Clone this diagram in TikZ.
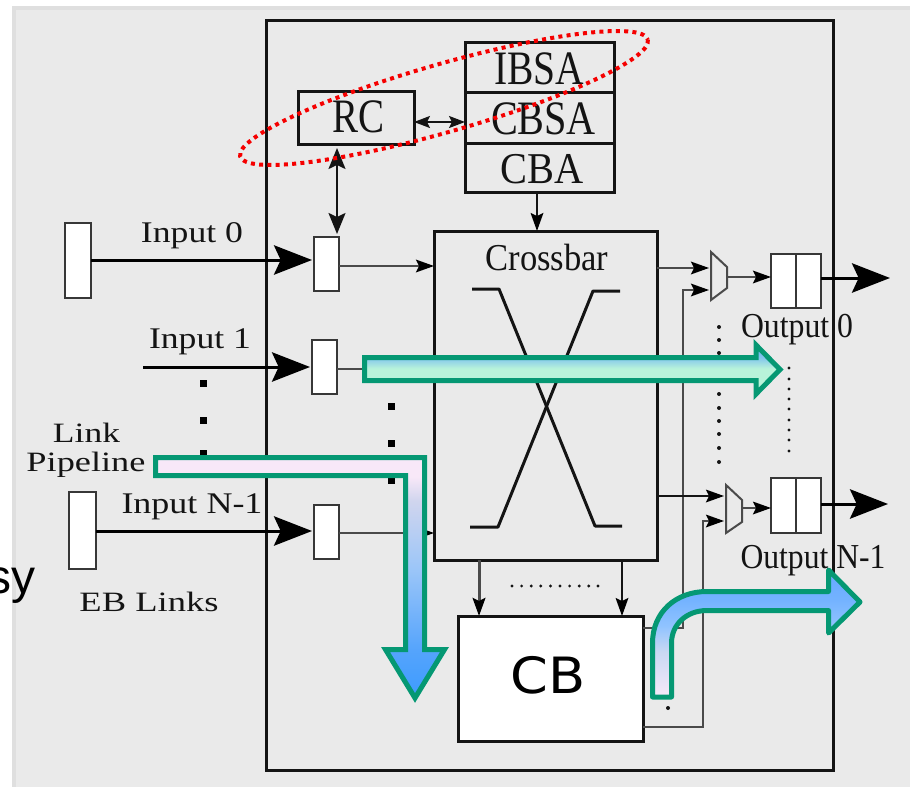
\documentclass[tikz,border=0pt]{standalone}
\usepackage{fontspec}
\usepackage{graphicx}
\setmainfont{Liberation Serif}
\newfontfamily\sansf{Liberation Sans}
\newfontfamily\dejav{DejaVu Sans}
\usetikzlibrary{arrows.meta}
\newdimen\pxu \pxu=.75pt
\newcommand\lab[3]{\resizebox{#2\pxu}{\height}{\fontsize{#1\pxu}{#1\pxu}\selectfont #3}}
\definecolor{bgg}{HTML}{EAEAEA}
\definecolor{bgb}{HTML}{DFDFDF}
\definecolor{ink}{HTML}{141414}
\definecolor{gline}{HTML}{4A4A4A}
\definecolor{grn}{HTML}{059873}
\definecolor{redd}{HTML}{F50000}
\definecolor{mint}{HTML}{B8F3DA}
\definecolor{skya}{HTML}{83C6EC}
\definecolor{skyb}{HTML}{66A6F2}
\definecolor{pinkk}{HTML}{F8E8F8}
\definecolor{lava}{HTML}{D0D5EE}
\definecolor{blua}{HTML}{9CC6F8}
\definecolor{blub}{HTML}{55A4FC}
\definecolor{bluc}{HTML}{3D9BFF}
\definecolor{cola}{HTML}{66A8FF}
\definecolor{colb}{HTML}{74B3FF}
\definecolor{colc}{HTML}{90C3FF}
\definecolor{cold}{HTML}{C8D8F3}
\definecolor{cole}{HTML}{F3E8F8}
\pgfdeclareverticalshading{shA}{100bp}{color(0bp)=(mint);color(51bp)=(mint);color(62bp)=(skya);color(75bp)=(skyb);color(100bp)=(skyb)}
\pgfdeclareverticalshading{shB}{100bp}{color(0bp)=(bluc);color(25bp)=(bluc);color(35bp)=(blub);color(52bp)=(blua);color(66bp)=(lava);color(71bp)=(pinkk);color(100bp)=(pinkk)}
\pgfdeclareverticalshading{shC}{100bp}{color(0bp)=(cole);color(26bp)=(cole);color(43bp)=(cold);color(53bp)=(colc);color(63bp)=(colb);color(75bp)=(cola);color(100bp)=(cola)}
\tikzset{
 txt/.style={anchor=base,inner sep=0pt,outer sep=0pt,text=ink},
 box/.style={draw=ink,line width=2.25pt,fill=white,inner sep=0pt,outer sep=0pt},
 frame/.style={box,fill=none},
 reg/.style={box,draw=ink!85!white,line width=1.95pt},
 wire/.style={draw=gline,line width=1.5pt},
 wirek/.style={draw=ink,line width=1.5pt},
 xbar/.style={draw=ink,line width=2.25pt,line join=round},
 small/.style={-{Stealth[length=13.5pt,width=9.5pt,inset=2.25pt,color=black]}},
 big/.style={draw=black,line width=2.25pt,shorten >=1.5pt,-{Stealth[length=28.5pt,width=22pt,inset=5pt]}},
 sq/.style={fill=black,inner sep=0pt,minimum size=5.25pt,draw=none},
 fine/.style={fill=ink,circle,inner sep=0pt,minimum size=2.4pt,draw=none},
 mid/.style={fill=ink,circle,inner sep=0pt,minimum size=3pt,draw=none},
 flow/.style={draw=grn,line width=3.75pt,miter limit=10},
}
\newcommand\bx[6][]{\node[#1,minimum width={(#5-#3)*.75pt},minimum height={(#6-#4)*.75pt}] (#2) at ({(#3+#5)/2},{(#4+#6)/2}) {};}
\begin{document}
\begin{tikzpicture}[x=.75pt,y=-.75pt]
\useasboundingbox (0,0) rectangle (910,788);
\fill[bgb] (12,6) rectangle (910,787);
\fill[bgg] (16,10) rectangle (910,787);
\node[anchor=base east,inner sep=0pt] (busy) at (36,593) {\sansf\fontsize{36}{36}\selectfont sy};
% frames
\bx[frame]{router}{266}{21}{833}{770}
\bx[frame]{rc}{298}{92}{414}{145}
\bx[frame]{ibsa}{465}{43}{614}{93}
\bx[frame]{cbsa}{465}{93}{614}{144}
\bx[frame]{cba}{465}{144}{614}{193}
\bx[frame]{xb}{434}{231}{657}{560}
\bx[box]{cb}{458}{616}{643}{741}
\bx[reg]{lk0}{65}{223}{91}{298}
\bx[reg]{lkn}{69}{492}{96}{569}
\bx[reg]{r0}{314}{237}{339}{291}
\bx[reg]{r1}{312}{340}{337}{394}
\bx[reg]{rn}{314}{505}{339}{559}
\bx[reg]{o0a}{771}{254}{796}{308}
\bx[reg]{o0b}{796}{254}{821}{308}
\bx[reg]{ona}{771}{478}{796}{533}
\bx[reg]{onb}{796}{478}{821}{533}
% free ends and levels
\coordinate (y0) at (0,260);
\coordinate (y0b) at (0,266);
\coordinate (y1) at (0,367);
\coordinate (y1b) at (0,369);
\coordinate (yn) at (0,531);
\coordinate (ynb) at (0,533);
\coordinate (i1) at (143,367);
\coordinate (fl1) at (362,369);
\coordinate (x337) at (337,0);
\coordinate (yrc) at (0,122);
\coordinate (x537) at (537,0);
\coordinate (m0t) at (711,252);\coordinate (m0a) at (727,267);\coordinate (m0b) at (727,288);\coordinate (m0c) at (711,300);
\coordinate (mnt) at (726,485);\coordinate (mna) at (742,500);\coordinate (mnb) at (742,522);\coordinate (mnc) at (726,533);
\coordinate (out0) at (890,278);
\coordinate (outn) at (888,504);
\coordinate (t0a) at (709,268);\coordinate (b0) at (657,268);
\coordinate (t0b) at (709,290);\coordinate (k0) at (683,290);\coordinate (k0d) at (683,628);\coordinate (cb0) at (643,628);
\coordinate (tna) at (724,496);\coordinate (bn) at (657,496);
\coordinate (tnb) at (724,521);\coordinate (knb) at (703,521);\coordinate (knd) at (703,727);\coordinate (cbn) at (643,727);
\coordinate (s0) at (727,277);\coordinate (sn) at (742,508);
\coordinate (xl) at (479,0);\coordinate (xr) at (622,0);
% connectors
\draw[big] (lk0.east |- y0) -- (r0.west |- y0);
\draw[big] (i1) -- (r1.west |- y1);
\draw[big] (lkn.east |- yn) -- (rn.west |- yn);
\draw[wire,small] (r0.east |- y0b) -- (xb.west |- y0b);
\draw[wire] (r1.east |- y1b) -- (fl1);
\draw[wire,small] (rn.east |- ynb) -- (xb.west |- ynb);
\draw[wirek,shorten <=2.25pt,shorten >=2.25pt,{Stealth[length=15.75pt,width=12.75pt,inset=3pt]}-{Stealth[length=15.75pt,width=12.75pt,inset=3pt]}] (x337 |- rc.south) -- (x337 |- r0.north);
\draw[wirek,{Stealth[length=12pt,width=9pt,inset=2.25pt]}-{Stealth[length=12pt,width=9pt,inset=2.25pt]}] (rc.east |- yrc) -- (cbsa.west |- yrc);
\draw[wirek,small] (x537 |- cba.south) -- (x537 |- xb.north);
\draw[wire,small] (b0) -- (t0a);
\draw[wire,small] (cb0) -- (k0d) -- (k0) -- (t0b);
\draw[wirek,small] (bn) -- (tna);
\draw[wire,small] (cbn) -- (knd) -- (knb) -- (tnb);
\draw[wire] (m0t) -- (m0a) -- (m0b) -- (m0c) -- cycle;
\draw[wire] (mnt) -- (mna) -- (mnb) -- (mnc) -- cycle;
\draw[wire,small] (s0) -- (o0a.west |- s0);
\draw[wire,small] (sn) -- (ona.west |- sn);
\draw[big,shorten >=0pt] (o0b.east |- out0) -- (out0);
\draw[big,shorten >=0pt] (onb.east |- outn) -- (outn);
\draw[draw=gline,line width=2.25pt,small] (xl |- xb.south) -- (xl |- cb.north);
\draw[wirek,small] (xr |- xb.south) -- (xr |- cb.north);
% crossbar symbol
\draw[xbar] (472,289) -- (499,289) -- (595,526) -- (622,526);
\draw[xbar] (620,291) -- (593,291) -- (498,527) -- (470,527);
% dots
\foreach \y [count=\i] in {383,420,453}{\node[sq] (da\i) at (203,\y) {};}
\foreach \y [count=\i] in {406,443,480}{\node[sq] (db\i) at (391,\y) {};}
\foreach \y [count=\i] in {327,340,353,367,380,394,408,421,434,448,462}{\node[mid] (dc\i) at (719,\y) {};}
\foreach \y [count=\i] in {368,379,389,399,409,420,430,440,451}{\node[fine] (dd\i) at (789,\y) {};}
\foreach \x [count=\i] in {512,521.6,531.2,540.8,550.4,560,569.6,579.2,588.8,598}{\node[fine] (de\i) at (\x,586) {};}
\node[mid] (df) at (668,708) {};
% labels
\node[txt] (t1) at (192,243) {\lab{30}{102}{Input 0}};
\node[txt] (t2) at (200,348) {\lab{30}{102}{Input 1}};
\node[txt] (t3) at (192,513) {\lab{30}{141}{Input N-1}};
\node[txt] (t4) at (86.5,442) {\lab{28}{67}{Link}};
\node[txt] (t5) at (86,471) {\lab{28}{119}{Pipeline}};
\node[txt] (t6) at (149,611) {\lab{28}{139}{EB Links}};
\node[txt] (t7) at (797,337) {\lab{35}{112}{Output 0}};
\node[txt] (t8) at (813,568) {\lab{35}{145}{Output N-1}};
\node[txt] (t9) at (547,270) {\lab{38}{123}{Crossbar}};
\node[txt] (t10) at (358,133) {\lab{48}{52}{RC}};
\node[txt] (t11) at (539,85) {\lab{48}{90}{IBSA}};
\node[txt] (t12) at (543.5,135) {\lab{48}{105}{CBSA}};
\node[txt] (t13) at (542,184) {\lab{44}{83}{CBA}};
\node[txt,text=black] (t14) at (548,693) {\dejav\lab{50}{75}{CB}};
% flow arrows
\path[flow,shade,shading=shA] (364.5,357.5) -- (756,357.5) -- (756,345) -- (780,369.5) -- (756,394) -- (756,380.5) -- (364.5,380.5) -- cycle;
\path[flow,shade,shading=shB] (155.5,457.5) -- (424.5,457.5) -- (424.5,649.5) -- (444.5,649.5) -- (415,698) -- (385.5,649.5) -- (405.5,649.5) -- (405.5,475.5) -- (155.5,475.5) -- cycle;
\path[flow,shade,shading=shC,line join=round] (652.5,697) -- (652.5,643) .. controls (652.5,612) and (676,591.5) .. (707,591.5) -- (828.5,591.5) -- (828.5,570) -- (860,602) -- (828.5,633) -- (828.5,610.5) -- (707,610.5) .. controls (686,610.5) and (671.5,625) .. (671.5,643) -- (671.5,697) -- cycle;
% red ellipse
\draw[redd,line width=3pt,dash pattern=on 3pt off 3.2pt] (444,98) ellipse [x radius=212,y radius=34,rotate=16];
\end{tikzpicture}
\end{document}
